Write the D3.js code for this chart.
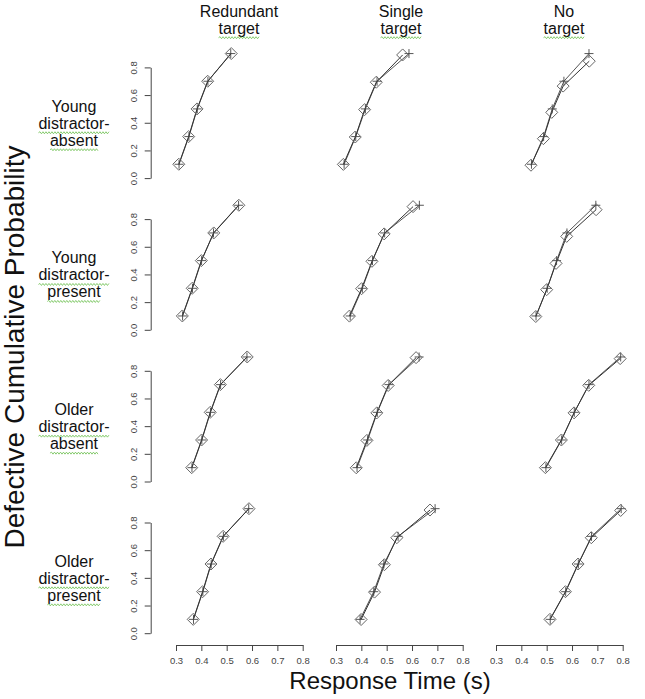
<!DOCTYPE html>
<html><head><meta charset="utf-8">
<script src="https://cdn.jsdelivr.net/npm/d3@7"></script>
<style>body{margin:0;background:#fff}svg{display:block}text{font-family:"Liberation Sans",Arial,sans-serif}</style>
</head><body><svg id="c" width="645" height="699"></svg>
<script>
const colTitles = [["Redundant","target"],["Single","target"],["No","target"]];
const rowTitles = [["Young","distractor-","absent"],["Young","distractor-","present"],["Older","distractor-","absent"],["Older","distractor-","present"]];
const xTicks = [0.3,0.4,0.5,0.6,0.7,0.8];
const yTicks = [0.0,0.2,0.4,0.6,0.8];
const quant = [0.1,0.3,0.5,0.7,0.9];
// observed RT quantiles [row][col]
const obsRT = [
 [[0.311,0.350,0.383,0.425,0.518],[0.329,0.376,0.413,0.459,0.563],[0.438,0.487,0.520,0.565,0.668]],
 [[0.325,0.364,0.400,0.449,0.548],[0.353,0.401,0.442,0.490,0.604],[0.457,0.500,0.537,0.579,0.695]],
 [[0.362,0.401,0.435,0.475,0.581],[0.380,0.422,0.461,0.506,0.616],[0.495,0.558,0.608,0.666,0.790]],
 [[0.368,0.405,0.438,0.486,0.588],[0.399,0.452,0.491,0.540,0.671],[0.513,0.574,0.624,0.676,0.792]]
];
const obsP = [
 [[0.1,0.3,0.5,0.7,0.9],[0.099,0.297,0.495,0.693,0.89],[0.093,0.285,0.475,0.665,0.845]],
 [[0.1,0.3,0.5,0.7,0.9],[0.099,0.297,0.495,0.693,0.89],[0.096,0.29,0.48,0.675,0.868]],
 [[0.1,0.3,0.5,0.7,0.9],[0.099,0.297,0.496,0.694,0.895],[0.1,0.3,0.496,0.695,0.888]],
 [[0.1,0.3,0.5,0.7,0.9],[0.099,0.297,0.495,0.69,0.89],[0.1,0.3,0.5,0.69,0.887]]
];
// model RT quantiles [row][col]
const modRT = [
 [[0.312,0.351,0.384,0.426,0.516],[0.332,0.378,0.416,0.462,0.588],[0.440,0.488,0.522,0.568,0.667]],
 [[0.326,0.365,0.401,0.448,0.547],[0.356,0.404,0.444,0.492,0.629],[0.458,0.502,0.539,0.580,0.694]],
 [[0.363,0.402,0.436,0.476,0.580],[0.383,0.425,0.463,0.509,0.628],[0.497,0.559,0.609,0.667,0.792]],
 [[0.369,0.406,0.439,0.487,0.587],[0.395,0.449,0.489,0.545,0.691],[0.514,0.575,0.625,0.677,0.794]]
];
const modP = quant;

const svg = d3.select("#c");
const colX0 = [176,336,496], colW = 126.7;
const rowY0 = [178.1,329.8,481.5,633.2], rowH = 110.7;
const fontF = '"Liberation Sans",Arial,sans-serif';

function wavy(g, x0, x1, y){
  let d = `M${x0},${y}`; let up = true;
  for(let x=x0+1.5; x<=x1; x+=1.5){ d += `L${x},${y+(up?-1:1)}`; up=!up; }
  g.append("path").attr("d",d).attr("fill","none").attr("stroke","#6bbf4e").attr("stroke-width",0.8);
}

for(let r=0;r<4;r++){
  for(let c=0;c<3;c++){
    const x = d3.scaleLinear().domain([0.3,0.8]).range([colX0[c], colX0[c]+colW]);
    const y = d3.scaleLinear().domain([0,0.8]).range([rowY0[r], rowY0[r]-rowH]);
    const g = svg.append("g");
    if(c===0){
      const ax = g.append("g").attr("transform",`translate(150.7,0)`)
        .call(d3.axisLeft(y).tickValues(yTicks).tickFormat(d3.format(".1f")).tickSize(6).tickSizeOuter(0));
      ax.select(".domain").attr("stroke","#444");
      ax.selectAll(".tick line").attr("stroke","#444");
      ax.selectAll(".tick text").attr("font-family",fontF).attr("font-size",9.5).attr("fill","#444")
        .attr("transform","rotate(-90)").attr("x",0).attr("y",-17).attr("dy","0.32em").attr("text-anchor","middle");
    }
    if(r===3){
      const ax = g.append("g").attr("transform",`translate(0,645)`)
        .call(d3.axisBottom(x).tickValues(xTicks).tickFormat(d3.format(".1f")).tickSize(6).tickSizeOuter(0));
      ax.select(".domain").attr("stroke","#444");
      ax.selectAll(".tick line").attr("stroke","#444");
      ax.selectAll(".tick text").attr("font-family",fontF).attr("font-size",9.5).attr("fill","#444").attr("y",12);
    }
    const line = d3.line().x(d=>x(d[0])).y(d=>y(d[1]));
    const obs = obsRT[r][c].map((v,i)=>[v,obsP[r][c][i]]);
    const mod = modRT[r][c].map((v,i)=>[v,modP[i]]);
    g.append("path").datum(mod).attr("d",line).attr("fill","none").attr("stroke","#555").attr("stroke-width",1);
    g.append("path").datum(obs).attr("d",line).attr("fill","none").attr("stroke","#333").attr("stroke-width",1);
    g.selectAll(".pl").data(mod).join("path")
      .attr("d",d=>{const px=x(d[0]),py=y(d[1]);return `M${px-4.5},${py}H${px+4.5}M${px},${py-4.5}V${py+4.5}`;})
      .attr("stroke","#444").attr("stroke-width",0.9).attr("fill","none");
    g.selectAll(".dm").data(obs).join("path")
      .attr("d",d=>{const px=x(d[0]),py=y(d[1]),s=6;return `M${px},${py-s}L${px+s},${py}L${px},${py+s}L${px-s},${py}Z`;})
      .attr("stroke","#666").attr("stroke-width",1).attr("fill","none");
  }
}

// column titles
const colCx = [239,401,564];
colTitles.forEach((t,i)=>{
  t.forEach((s,j)=>{
    const tx = svg.append("text").attr("x",colCx[i]).attr("y",17+j*16.7).attr("text-anchor","middle")
      .attr("font-size",16).attr("fill","#111").text(s);
    if(s==="target"){ const w=tx.node().getComputedTextLength(); wavy(svg,colCx[i]-w/2,colCx[i]+w/2,j*16.7+17+4); }
  });
});
// row titles
rowTitles.forEach((t,i)=>{
  const cy = rowY0[i] - rowH/2;
  t.forEach((s,j)=>{
    const by = cy + 6 + (j-1)*17;
    const tx = svg.append("text").attr("x",74).attr("y",by).attr("text-anchor","middle")
      .attr("font-size",16).attr("fill","#111").text(s);
    if(j>0){ const w=tx.node().getComputedTextLength(); wavy(svg,74-w/2,74+w/2,by+4); }
  });
});
// axis titles
svg.append("text").attr("transform","translate(24,347) rotate(-90)").attr("text-anchor","middle")
  .attr("font-size",28).attr("fill","#111").text("Defective Cumulative Probability");
svg.append("text").attr("x",390).attr("y",689).attr("text-anchor","middle")
  .attr("font-size",24).attr("fill","#111").text("Response Time (s)");
</script></body></html>
